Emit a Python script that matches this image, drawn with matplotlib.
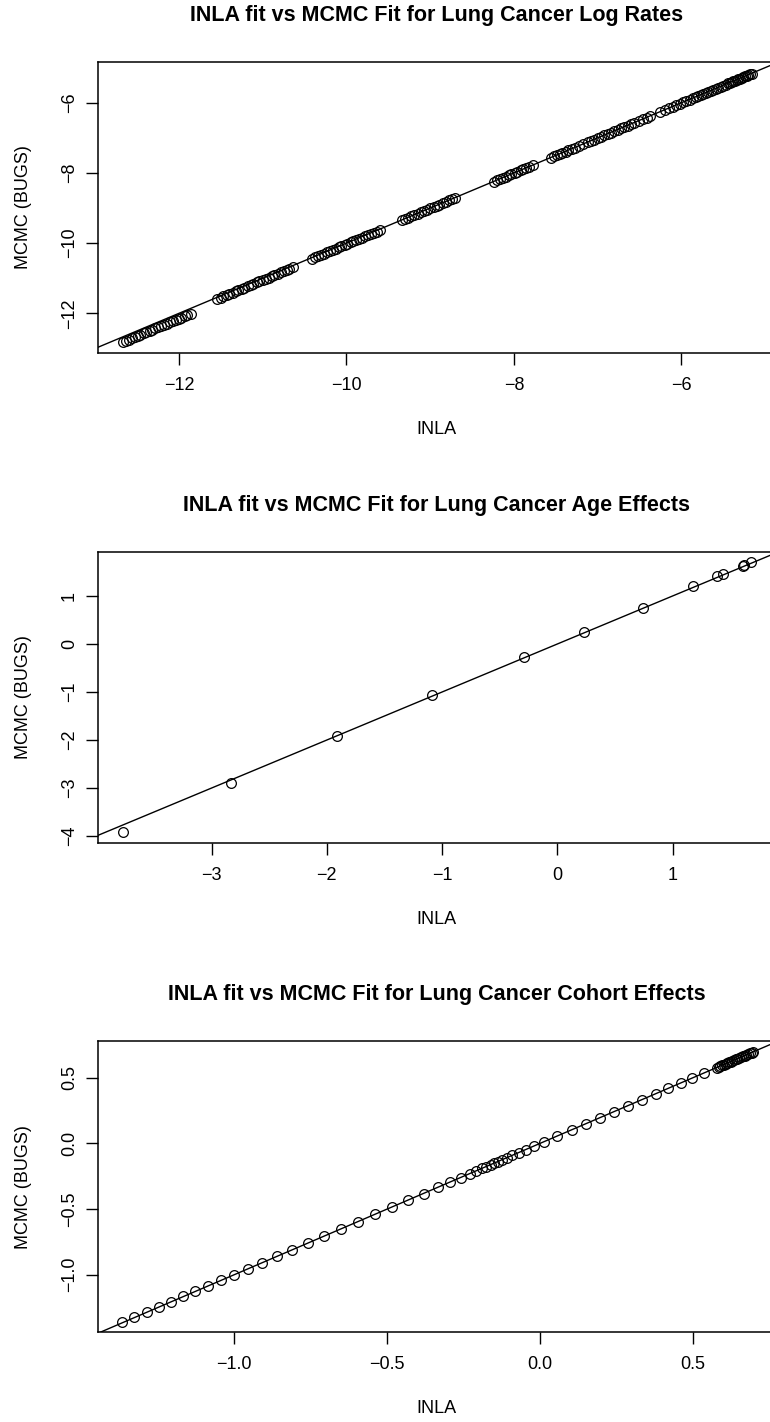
import matplotlib
matplotlib.use("Agg")
import matplotlib.pyplot as plt

plt.rcParams["font.family"] = ["Liberation Sans", "DejaVu Sans"]

# Log rates: INLA posterior means (x) against BUGS posterior means (y)
rate_inla = [
    -12.67, -12.63, -12.60, -12.56, -12.53, -12.49, -12.46, -12.42, -12.39, -12.35, -12.32, -12.28,
    -12.25, -12.21, -12.18, -12.14, -12.11, -12.07, -12.04, -12.00, -11.97, -11.93, -11.90, -11.86,
    -11.54, -11.50, -11.47, -11.43, -11.40, -11.36, -11.32, -11.29, -11.25, -11.22, -11.18, -11.14,
    -11.11, -11.07, -11.04, -11.00, -10.96, -10.93, -10.89, -10.86, -10.82, -10.78, -10.75, -10.71,
    -10.68, -10.64,
    -10.41, -10.37, -10.34, -10.30, -10.27, -10.23, -10.20, -10.16, -10.13, -10.09, -10.06, -10.02,
    -9.99, -9.95, -9.92, -9.88, -9.85, -9.81, -9.78, -9.74, -9.71, -9.67, -9.64, -9.60,
    -9.34, -9.30, -9.26, -9.23, -9.19, -9.15, -9.11, -9.07, -9.04, -9.00, -8.96, -8.92,
    -8.89, -8.85, -8.81, -8.77, -8.74, -8.70,
    -8.24, -8.20, -8.17, -8.13, -8.10, -8.06, -8.03, -7.99, -7.96, -7.92, -7.89, -7.85, -7.82, -7.77,
    -7.56, -7.52, -7.49, -7.45, -7.42, -7.38, -7.35, -7.31, -7.27, -7.22, -7.17, -7.12, -7.08, -7.04,
    -7.00, -6.96, -6.92, -6.88, -6.84, -6.80, -6.76, -6.72, -6.68, -6.64, -6.60, -6.56, -6.51, -6.46,
    -6.41, -6.37,
    -6.26, -6.20, -6.15, -6.10, -6.06, -6.02, -5.98, -5.94, -5.90, -5.86, -5.83, -5.80, -5.77, -5.74,
    -5.71, -5.68, -5.65, -5.62, -5.59, -5.56, -5.53, -5.50, -5.47, -5.44, -5.42, -5.40, -5.38, -5.36,
    -5.34, -5.32, -5.30, -5.28, -5.26, -5.24, -5.22, -5.20, -5.18, -5.16,
]
rate_bugs = [
    -12.82, -12.78, -12.75, -12.71, -12.68, -12.64, -12.61, -12.57, -12.54, -12.50, -12.47, -12.43,
    -12.40, -12.36, -12.33, -12.29, -12.26, -12.22, -12.19, -12.15, -12.12, -12.08, -12.05, -12.01,
    -11.59, -11.55, -11.52, -11.48, -11.45, -11.41, -11.37, -11.34, -11.30, -11.27, -11.23, -11.19,
    -11.16, -11.12, -11.09, -11.05, -11.01, -10.98, -10.94, -10.91, -10.87, -10.83, -10.80, -10.76,
    -10.73, -10.69,
    -10.44, -10.40, -10.37, -10.33, -10.30, -10.26, -10.23, -10.19, -10.16, -10.12, -10.09, -10.05,
    -10.02, -9.98, -9.95, -9.91, -9.88, -9.84, -9.81, -9.77, -9.74, -9.70, -9.67, -9.63,
    -9.35, -9.31, -9.27, -9.24, -9.20, -9.16, -9.12, -9.08, -9.05, -9.01, -8.97, -8.93,
    -8.90, -8.86, -8.82, -8.78, -8.75, -8.71,
    -8.25, -8.21, -8.18, -8.14, -8.11, -8.07, -8.04, -8.00, -7.97, -7.93, -7.90, -7.86, -7.83, -7.77,
    -7.57, -7.53, -7.50, -7.46, -7.43, -7.39, -7.36, -7.32, -7.28, -7.23, -7.18, -7.13, -7.09, -7.05,
    -7.01, -6.97, -6.93, -6.89, -6.85, -6.81, -6.77, -6.73, -6.69, -6.65, -6.61, -6.57, -6.52, -6.47,
    -6.42, -6.38,
    -6.27, -6.21, -6.16, -6.11, -6.07, -6.03, -5.99, -5.95, -5.91, -5.87, -5.84, -5.81, -5.78, -5.75,
    -5.72, -5.69, -5.66, -5.63, -5.60, -5.57, -5.54, -5.51, -5.48, -5.45, -5.43, -5.41, -5.39, -5.37,
    -5.35, -5.33, -5.31, -5.29, -5.27, -5.25, -5.23, -5.21, -5.19, -5.17,
]

# Age effects
age_inla = [-3.77, -2.83, -1.91, -1.09, -0.29, 0.23, 0.74, 1.18, 1.39, 1.44, 1.61, 1.62, 1.68]
age_bugs = [-3.92, -2.90, -1.92, -1.07, -0.28, 0.24, 0.76, 1.20, 1.41, 1.46, 1.62, 1.64, 1.70]

# Cohort effects
cohort_inla = [
    -1.367, -1.327, -1.286, -1.248, -1.208, -1.169, -1.128, -1.086, -1.044, -1.001, -0.955, -0.908,
    -0.860, -0.811, -0.759, -0.706, -0.651, -0.596, -0.539, -0.485, -0.431, -0.381, -0.334, -0.294,
    -0.259, -0.230, -0.208, -0.190, -0.176, -0.161, -0.149, -0.137, -0.125, -0.109, -0.091, -0.069,
    -0.047, -0.020, 0.014, 0.057, 0.104, 0.150, 0.196, 0.242, 0.289, 0.335, 0.380, 0.420, 0.460,
    0.498, 0.537,
    0.578, 0.584, 0.590, 0.595, 0.601, 0.607, 0.612, 0.618, 0.624, 0.629, 0.635, 0.641, 0.646,
    0.652, 0.658, 0.663, 0.669, 0.675, 0.680, 0.686, 0.692, 0.698,
]
cohort_bugs = [
    -1.358, -1.320, -1.281, -1.244, -1.205, -1.166, -1.126, -1.085, -1.043, -1.000, -0.955, -0.908,
    -0.861, -0.812, -0.760, -0.707, -0.652, -0.597, -0.540, -0.486, -0.432, -0.382, -0.335, -0.295,
    -0.260, -0.231, -0.209, -0.191, -0.177, -0.162, -0.150, -0.138, -0.126, -0.110, -0.092, -0.070,
    -0.048, -0.021, 0.013, 0.056, 0.103, 0.149, 0.195, 0.241, 0.288, 0.334, 0.379, 0.419, 0.459,
    0.497, 0.536,
    0.577, 0.583, 0.589, 0.594, 0.600, 0.606, 0.611, 0.617, 0.623, 0.628, 0.634, 0.640, 0.645,
    0.651, 0.657, 0.662, 0.668, 0.674, 0.679, 0.685, 0.691, 0.697,
]

rate_ticks = [-12, -10, -8, -6]
age_ticks_x = [-3, -2, -1, 0, 1]
age_ticks_y = [-4, -3, -2, -1, 0, 1]
cohort_ticks = [-1.0, -0.5, 0.0, 0.5]

W, H = 770, 1422
LEFT, RIGHT = 97.7, 776.0


def panel(fig, top, bottom, x, y, xlim, ylim, xticks, yticks, title, fmt):
    ax = fig.add_axes([LEFT / W, 1 - bottom / H, (RIGHT - LEFT) / W, (bottom - top) / H])
    ax.plot(x, y, linestyle="none", marker="o", markersize=7, markerfacecolor="none",
            markeredgecolor="black", markeredgewidth=0.9)
    ax.axline((0, 0), slope=1, color="black", linewidth=1.0)
    ax.set_xlim(*xlim)
    ax.set_ylim(*ylim)
    ax.set_xticks(xticks)
    ax.set_yticks(yticks)
    ax.set_xticklabels([fmt(v) for v in xticks])
    ax.set_yticklabels([fmt(v) for v in yticks])
    ax.tick_params(direction="out", length=8.6, width=1.0, labelsize=13, color="black")
    ax.tick_params(axis="x", pad=8.5)
    ax.tick_params(axis="y", pad=5.5)
    plt.setp(ax.get_yticklabels(), rotation=90, va="center")
    for s in ax.spines.values():
        s.set_linewidth(1.1)

    h = bottom - top
    ax.set_xlabel("INLA", fontsize=13)
    ax.xaxis.set_label_coords(0.5, -76 / h)
    ax.xaxis.label.set_va("center")
    ax.set_ylabel("MCMC (BUGS)", fontsize=13)
    ax.yaxis.set_label_coords(-73.7 / (RIGHT - LEFT), 0.5)
    ax.yaxis.label.set_va("center")
    ax.set_title(title, fontsize=15.5, fontweight="bold", y=1 + 38 / h, va="center")
    return ax


def main():
    fig = plt.figure(figsize=(W / 100, H / 100), dpi=100)
    fig.patch.set_facecolor("white")

    panel(fig, 61.7, 353.0, rate_inla, rate_bugs, (-12.97, -4.87), (-13.13, -4.83),
          rate_ticks, rate_ticks, "INLA fit vs MCMC Fit for Lung Cancer Log Rates",
          lambda v: f"{v:g}".replace("-", "\u2212"))
    panel(fig, 551.7, 843.3, age_inla, age_bugs, (-3.989, 1.898), (-4.152, 1.923),
          age_ticks_x, age_ticks_y, "INLA fit vs MCMC Fit for Lung Cancer Age Effects",
          lambda v: f"{v:g}".replace("-", "\u2212"))
    panel(fig, 1041.0, 1332.3, cohort_inla, cohort_bugs, (-1.447, 0.772), (-1.439, 0.780),
          cohort_ticks, cohort_ticks, "INLA fit vs MCMC Fit for Lung Cancer Cohort Effects",
          lambda v: f"{v:.1f}".replace("-", "\u2212"))

    fig.savefig("out.png", dpi=100)
    plt.close(fig)


if __name__ == "__main__":
    main()
